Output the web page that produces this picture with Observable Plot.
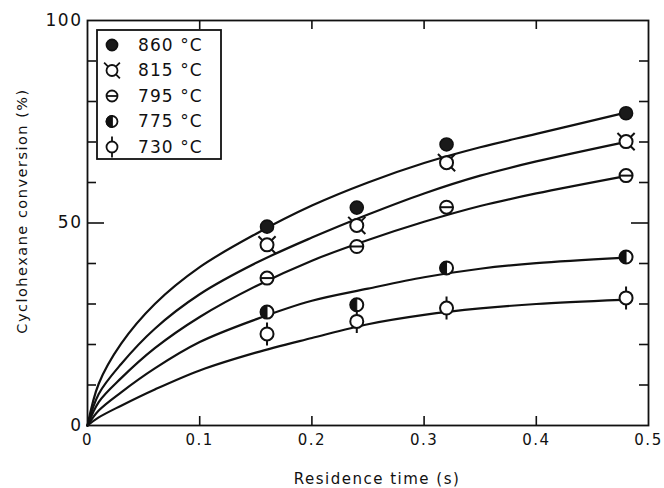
<!DOCTYPE html>
<html><head><meta charset="utf-8">
<script src="https://cdn.jsdelivr.net/npm/d3@7"></script>
<script src="https://cdn.jsdelivr.net/npm/@observablehq/plot@0.6"></script>
<style>body{margin:0;background:#fff;} #chart{width:664px;height:488px;}</style>
</head><body><div id="chart"></div>
<script>
// ---- data ----
const temps = ["860 °C", "815 °C", "795 °C", "775 °C", "730 °C"];
const times = [0.16, 0.24, 0.32, 0.48];
const conv860 = [49.1, 53.8, 69.4, 77.1];
const conv815 = [44.6, 49.4, 64.9, 70.1];
const conv795 = [36.4, 44.2, 53.9, 61.7];
const conv775 = [28.0, 29.8, 38.9, 41.6];
const conv730 = [22.6, 25.7, 29.0, 31.5];
// fitted curves
const curveT   = [0, 0.01, 0.03, 0.06, 0.1, 0.15, 0.2, 0.25, 0.3, 0.35, 0.4, 0.476];
const curve860 = [0, 10.3, 20.2, 30.0, 39.1, 47.3, 54.3, 60.0, 64.8, 68.7, 72.0, 77.0];
const curve815 = [0, 7.8, 15.2, 23.9, 32.4, 40.1, 46.4, 52.1, 57.3, 61.7, 65.2, 69.8];
const curve795 = [0, 5.8, 11.7, 19.1, 26.8, 34.4, 40.7, 45.8, 50.3, 54.2, 57.3, 61.4];
const curve775 = [0, 3.7, 8.2, 14.1, 20.6, 26.2, 30.8, 33.8, 36.6, 38.7, 40.1, 41.4];
const curve730 = [0, 2.0, 4.9, 8.9, 13.6, 18.0, 21.6, 25.0, 27.3, 28.9, 30.0, 31.0];
const xTicks = [0, 0.1, 0.2, 0.3, 0.4, 0.5];
const xTickLabels = ["0", "0.1", "0.2", "0.3", "0.4", "0.5"];
const yTicks = [0, 50, 100];
const yMinor = [10, 20, 30, 40, 60, 70, 80, 90];
const yMajor = [50];
const xMinor = [0.1, 0.2, 0.3, 0.4];
const xTitle = "Residence time (s)";
const yTitle = "Cyclohexane conversion (%)";

// ---- tables ----
const convs = [conv860, conv815, conv795, conv775, conv730];
const curves = [curve860, curve815, curve795, curve775, curve730];
const points = temps.flatMap((t, i) => times.map((x, j) => ({temp: t, time: x, conv: convs[i][j]})));
const lines = temps.flatMap((t, i) => curveT.map((x, j) => ({temp: t, time: x, conv: curves[i][j]})));

// ---- symbols ----
const rad = s => Math.sqrt(s / Math.PI);
const symVTicks = {draw(c, s) { const r = rad(s); c.moveTo(0, -r); c.lineTo(0, -r - 5); c.moveTo(0, r); c.lineTo(0, r + 5); }};
const symHBar = {draw(c, s) { const r = rad(s); c.moveTo(-r, 0); c.lineTo(r, 0); }};
const symDiag = {draw(c, s) { const r = rad(s), k = Math.SQRT1_2;
  [[-1,-1],[1,-1],[1,1]].forEach(([a,b]) => { c.moveTo(a*r*k, b*r*k); c.lineTo(a*(r*k+4), b*(r*k+4)); }); }};
const symHalf = {draw(c, s) { const r = rad(s); c.moveTo(0, -r); c.arc(0, 0, r, -Math.PI/2, Math.PI/2, true); c.closePath(); }};

const W = 664, H = 488, ML = 87, MR = 16, MT = 20, MB = 63;
const PW = W - ML - MR, PH = H - MT - MB;
const R = 6.5;
const ofT = t => points.filter(d => d.temp === t);
const font = "DejaVu Sans";

const plot = Plot.plot({
  width: W, height: H,
  marginLeft: ML, marginRight: MR, marginTop: MT, marginBottom: MB,
  style: {fontFamily: font, fontSize: "16px", letterSpacing: "1.5px", color: "#111", background: "#fff"},
  x: {domain: [0, 0.5]},
  y: {domain: [0, 100]},
  marks: [
    Plot.line(lines, {x: "time", y: "conv", z: "temp", curve: "catmull-rom", stroke: "#111", strokeWidth: 2.2}),
    // 860: filled
    Plot.dot(ofT(temps[0]), {x: "time", y: "conv", r: R, fill: "#1a1a1a", stroke: "#111", strokeWidth: 1.6}),
    // 815: open with ticks
    Plot.dot(ofT(temps[1]), {x: "time", y: "conv", r: R, fill: "#fff", stroke: "#111", strokeWidth: 2}),
    Plot.dot(ofT(temps[1]), {x: "time", y: "conv", r: R, symbol: symDiag, fill: "none", stroke: "#111", strokeWidth: 2}),
    // 795: theta
    Plot.dot(ofT(temps[2]), {x: "time", y: "conv", r: R, fill: "#fff", stroke: "#111", strokeWidth: 2}),
    Plot.dot(ofT(temps[2]), {x: "time", y: "conv", r: R, symbol: symHBar, fill: "none", stroke: "#111", strokeWidth: 2}),
    // 775: half filled
    Plot.dot(ofT(temps[3]), {x: "time", y: "conv", r: R, fill: "#fff", stroke: "#111", strokeWidth: 2}),
    Plot.dot(ofT(temps[3]), {x: "time", y: "conv", r: R, symbol: symHalf, fill: "#111", stroke: "#111", strokeWidth: 1}),
    // 730: open with vertical ticks
    Plot.dot(ofT(temps[4]), {x: "time", y: "conv", r: R, fill: "#fff", stroke: "#111", strokeWidth: 2}),
    Plot.dot(ofT(temps[4]), {x: "time", y: "conv", r: R, symbol: symVTicks, fill: "none", stroke: "#111", strokeWidth: 2}),
    // inward ticks
    Plot.tickY(yMinor, {y: d => d, insetRight: PW - 9, stroke: "#111", strokeWidth: 1.6}),
    Plot.tickY(yMinor, {y: d => d, insetLeft: PW - 9, stroke: "#111", strokeWidth: 1.6}),
    Plot.tickY(yMajor, {y: d => d, insetRight: PW - 17, stroke: "#111", strokeWidth: 1.6}),
    Plot.tickY(yMajor, {y: d => d, insetLeft: PW - 17, stroke: "#111", strokeWidth: 1.6}),
    Plot.tickX(xMinor, {x: d => d, insetTop: PH - 9, stroke: "#111", strokeWidth: 1.6}),
    Plot.tickX(xMinor, {x: d => d, insetBottom: PH - 9, stroke: "#111", strokeWidth: 1.6}),
    Plot.frame({stroke: "#111", strokeWidth: 1.8}),
    Plot.axisY(yTicks, {tickSize: 0, tickPadding: 5, label: null, fontSize: 17}),
    Plot.axisX(xTicks, {tickSize: 0, tickPadding: 9, label: null, fontSize: 15, style: "letter-spacing:0px",
      tickFormat: d => xTickLabels[xTicks.indexOf(d)]}),
    Plot.text([xTitle], {frameAnchor: "bottom", dy: 58, dx: 9, fontSize: 15, text: d => d, style: "letter-spacing:2.4px"}),
    Plot.text([yTitle], {frameAnchor: "left", textAnchor: "middle", dx: -65, dy: -12, rotate: -90, fontSize: 14.5, text: d => d})
  ]
});
document.getElementById("chart").appendChild(plot);

// ---- legend (inside plot, top-left) ----
const svg = d3.select(plot);
const lg = svg.append("g").attr("transform", "translate(97,30)");
lg.append("rect").attr("width", 124).attr("height", 129).attr("fill", "#fff").attr("stroke", "#111").attr("stroke-width", 1.8);
const legendSyms = [
  [{type: d3.symbolCircle, fill: "#1a1a1a"}],
  [{type: d3.symbolCircle, fill: "#fff"}, {type: symDiag, fill: "none"}],
  [{type: d3.symbolCircle, fill: "#fff"}, {type: symHBar, fill: "none"}],
  [{type: d3.symbolCircle, fill: "#fff"}, {type: symHalf, fill: "#111"}],
  [{type: d3.symbolCircle, fill: "#fff"}, {type: symVTicks, fill: "none"}]
];
const lr = 5.5;
temps.forEach((t, i) => {
  const row = lg.append("g").attr("transform", `translate(15,${15 + i * 25.5})`);
  legendSyms[i].forEach(s => {
    row.append("path").attr("d", d3.symbol(s.type, Math.PI * lr * lr)()).attr("fill", s.fill).attr("stroke", "#111").attr("stroke-width", 1.8);
  });
  row.append("text").attr("transform", "translate(26,0)").attr("dy", "0.35em")
    .style("font-size", "17px").style("text-anchor", "start").style("font-family", font)
    .style("letter-spacing", "1.1px").attr("fill", "#111").text(t);
});
</script>
</body></html>
